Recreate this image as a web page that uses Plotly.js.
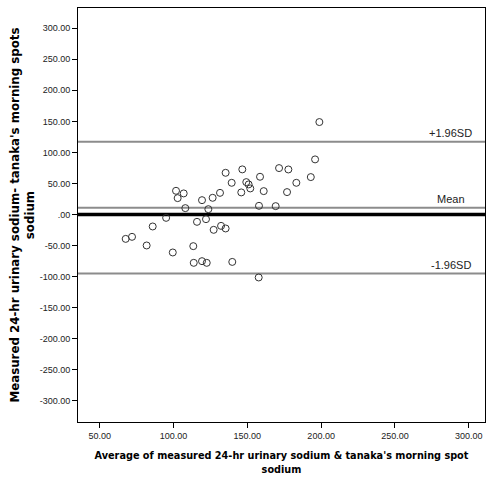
<!DOCTYPE html>
<html><head><meta charset="utf-8">
<script src="https://cdn.plot.ly/plotly-3.0.1.min.js"></script>
<style>html,body{margin:0;padding:0;background:#fff}#chart{width:486px;height:486px}</style>
</head><body><div id="chart"></div>
<script>
// Bland-Altman data: average (x) vs difference (y)
const avgValues = [198.8,195.9,193.0,183.2,177.8,176.9,171.5,169.2,161.1,158.6,157.9,157.7,152.0,150.9,149.3,146.6,145.9,139.8,139.4,135.3,135.3,132.2,131.5,127.2,126.5,123.6,122.0,122.5,119.3,119.3,115.9,113.4,113.7,108.0,106.9,102.8,101.7,99.5,95.0,85.9,81.8,71.9,67.6];
const diffValues = [148.9,88.7,60.2,51.0,72.5,36.0,74.7,13.4,37.6,60.7,13.9,-101.6,41.9,48.4,52.1,72.6,35.5,-76.5,51.0,67.1,-22.6,-18.4,34.8,-24.8,26.8,8.5,-7.6,-78.0,-75.3,23.0,-11.9,-51.1,-78.0,10.2,33.9,26.3,38.1,-61.3,-5.5,-19.4,-50.0,-36.1,-39.4];
const refLineValues = [117.0, 10.7, -95.2];
const refLineLabels = ["+1.96SD", "Mean", "-1.96SD"];
const zeroValue = [0];
const xTickVals = [50,100,150,200,250,300];
const xTickText = ["50.00","100.00","150.00","200.00","250.00","300.00"];
const yTickVals = [300,250,200,150,100,50,0,-50,-100,-150,-200,-250,-300];
const yTickText = ["300.00","250.00","200.00","150.00","100.00","50.00",".00","-50.00","-100.00","-150.00","-200.00","-250.00","-300.00"];

const shapes = refLineValues.map(v => ({type:'line', xref:'paper', x0:0, x1:1, yref:'y', y0:v, y1:v, line:{color:'#8c8c8c', width:2}, layer:'below'}));
shapes.push({type:'line', xref:'paper', x0:0, x1:1, yref:'y', y0:zeroValue[0], y1:zeroValue[0], line:{color:'#000', width:3.5}, layer:'below'});

const annotations = refLineValues.map((v,i) => ({xref:'paper', x:0.916, yref:'y', y:v, text:refLineLabels[i], showarrow:false, xanchor:'center', yanchor:'bottom', yshift:1, font:{family:'Liberation Sans, Arial', size:11, color:'#222'}}));

const trace = {x: avgValues, y: diffValues, type:'scatter', mode:'markers', marker:{symbol:'circle-open', size:7, color:'#333', line:{width:1, color:'#333'}}, hoverinfo:'none', cliponaxis:false};

const tickFont = {family:'Liberation Sans, Arial', size:9, color:'#222'};
const layout = {
  width:486, height:486,
  margin:{l:78, r:1, t:8, b:64},
  paper_bgcolor:'#fff', plot_bgcolor:'#fff',
  showlegend:false,
  font:{family:'Liberation Sans, Arial', color:'#222'},
  xaxis:{range:[35.3,311], tickvals:xTickVals, ticktext:xTickText, ticks:'outside', ticklen:5, tickcolor:'#000', showgrid:false, zeroline:false, showline:true, linecolor:'#000', linewidth:1, mirror:true, tickfont:tickFont,
    title:{text:"Average of measured 24-hr urinary sodium & tanaka's morning spot<br>sodium", font:{family:'DejaVu Sans Condensed, DejaVu Sans', size:10.8, color:'#000', weight:'bold'}, standoff:11}},
  yaxis:{range:[-334.5,332.7], tickvals:yTickVals, ticktext:yTickText, ticks:'outside', ticklen:5, tickcolor:'#000', showgrid:false, zeroline:false, showline:true, linecolor:'#000', linewidth:1, mirror:true, tickfont:tickFont,
    title:{text:"Measured 24-hr urinary sodium- tanaka's morning spots<br>sodium", font:{family:'DejaVu Sans', size:11.8, color:'#000', weight:'bold'}, standoff:2}},
  shapes: shapes,
  annotations: annotations
};
Plotly.newPlot('chart', [trace], layout, {staticPlot:true, displayModeBar:false});
</script></body></html>
